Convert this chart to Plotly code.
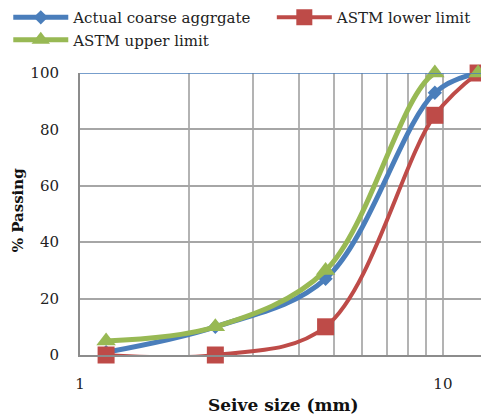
import plotly.graph_objects as go

sieve_mm = [1.18, 2.36, 4.75, 9.5, 12.5]
actual = [1, 10, 27, 93, 100]
lower = [0, 0, 10, 85, 100]
upper = [5, 10, 30, 100, 100]

x_tickvals = [1, 2, 3, 4, 5, 6, 7, 8, 9, 10]
x_ticktext = ["1", "", "", "", "", "", "", "", "", "10"]
y_tickvals = [0, 20, 40, 60, 80, 100]

x_title = "<b>Seive size (mm)</b>"
y_title = "<b>% Passing</b>"

FONT = "DejaVu Serif"

fig = go.Figure()
fig.add_trace(go.Scatter(
    x=sieve_mm, y=actual, name="Actual coarse aggrgate", mode="lines+markers",
    line=dict(color="#4A7EBB", width=5, shape="spline", smoothing=1),
    marker=dict(symbol="diamond", size=11, color="#4A7EBB"), cliponaxis=False,
    legend="legend"))
fig.add_trace(go.Scatter(
    x=sieve_mm, y=lower, name="ASTM lower limit", mode="lines+markers",
    line=dict(color="#BE4B48", width=4, shape="spline", smoothing=1),
    marker=dict(symbol="square", size=17, color="#BE4B48"), cliponaxis=False,
    legend="legend2"))
fig.add_trace(go.Scatter(
    x=sieve_mm, y=upper, name="ASTM upper limit", mode="lines+markers",
    line=dict(color="#98B954", width=5, shape="spline", smoothing=1),
    marker=dict(symbol="triangle-up", size=17, color="#98B954"), cliponaxis=False,
    legend="legend"))

fig.add_shape(type="line", xref="paper", yref="y", x0=0, x1=1, y0=100, y1=100,
              line=dict(color="#4A7EBB", width=1.5), layer="above")

fig.add_annotation(text=x_title, xref="paper", yref="paper", x=0.487, y=-0.177,
                   xanchor="center", yanchor="middle", showarrow=False,
                   font=dict(family=FONT, size=17, color="#111"))
fig.add_annotation(text=y_title, xref="paper", yref="paper", x=-0.148, y=0.514,
                   xanchor="center", yanchor="middle", showarrow=False, textangle=-90,
                   font=dict(family=FONT, size=15, color="#111"))

legend_common = dict(orientation="v", xref="paper", yref="paper",
                     xanchor="left", yanchor="top", itemwidth=55,
                     font=dict(family=FONT, size=15, color="#222"),
                     tracegroupgap=0, bgcolor="rgba(0,0,0,0)", traceorder="normal")

fig.update_layout(
    width=489, height=416,
    margin=dict(l=72, r=0, t=65, b=69, autoexpand=False),
    paper_bgcolor="white", plot_bgcolor="white",
    font=dict(family=FONT, size=15, color="#222"),
    showlegend=True,
    legend=dict(x=-0.172, y=1.255, **legend_common),
    legend2=dict(x=0.46, y=1.255, **legend_common),
    xaxis=dict(type="log", range=[0, 1.149], tickvals=x_tickvals, ticktext=x_ticktext,
               showgrid=True, gridcolor="#B3B3B3", gridwidth=1.5,
               showline=True, linecolor="#8C8C8C", linewidth=2,
               ticks="outside", ticklen=14, tickcolor="rgba(0,0,0,0)",
               tickfont=dict(family=FONT, size=15),
               automargin=False, zeroline=False),
    yaxis=dict(range=[0, 100], tickvals=y_tickvals,
               showgrid=True, gridcolor="#A6A6A6", gridwidth=1.5,
               showline=True, linecolor="#8C8C8C", linewidth=2,
               ticks="outside", ticklen=16, tickcolor="rgba(0,0,0,0)",
               tickfont=dict(family=FONT, size=15),
               automargin=False, zeroline=False),
)

fig.write_html("out.html")
